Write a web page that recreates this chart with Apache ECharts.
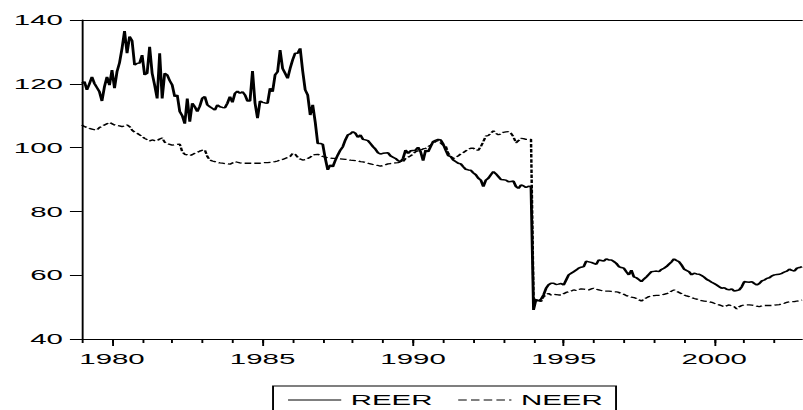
<!DOCTYPE html>
<html>
<head>
<meta charset="utf-8">
<script src="https://cdn.jsdelivr.net/npm/echarts@6/dist/echarts.min.js"></script>
<style>
  html, body { margin: 0; padding: 0; background: #fff; overflow: hidden; }
  /* the reference picture is stretched sideways, so draw narrow and widen it */
  #main { width: 423px; height: 410px; transform: scaleX(1.9); transform-origin: 0 0; }
</style>
</head>
<body>
<div id="main"></div>
<script>
var startYear = 1979;

// monthly, 1979M1 .. 2002M12
var reer = [
  120.1,120.7,118.1,120.0,122.2,120.1,118.8,117.5,114.6,119.1,122.2,119.6,
  124.3,118.6,123.8,126.6,131.1,136.5,129.6,134.8,133.5,125.9,126.4,126.5,
  129.0,122.8,123.3,131.6,123.3,119.6,115.4,129.6,115.4,123.3,122.8,121.0,
  119.6,116.0,116.5,111.3,110.0,107.5,115.4,108.1,113.9,112.8,111.3,113.0,
  115.5,116.0,113.4,112.8,112.3,111.8,113.4,112.8,112.6,112.5,113.9,116.0,
  114.2,117.0,117.7,117.0,117.5,116.5,114.6,114.6,124.0,114.0,109.2,114.6,
  114.2,114.0,113.9,118.6,117.5,122.8,123.8,130.6,124.8,123.3,121.7,124.8,
  127.5,129.6,129.6,131.1,124.0,118.1,116.5,110.2,113.4,108.0,101.3,101.3,
  101.0,96.6,93.0,94.6,94.0,96.0,97.7,99.2,100.3,102.4,104.0,104.3,
  105.0,104.5,103.2,104.0,102.6,102.4,102.2,101.3,100.3,99.5,98.4,98.0,
  98.2,98.3,98.4,97.4,97.0,96.6,95.9,95.6,96.6,99.2,98.2,99.0,
  99.1,99.2,100.1,98.7,95.9,99.2,98.7,100.3,101.9,102.3,102.6,102.4,
  101.1,99.2,97.5,97.2,96.1,95.6,95.1,94.9,94.0,93.2,93.0,92.9,
  92.1,91.5,90.4,89.8,87.8,89.8,90.4,91.5,92.5,91.8,90.9,90.0,
  89.9,89.8,89.3,89.4,89.5,87.8,87.2,88.3,88.0,87.5,87.9,87.8,
  49.1,52.4,51.9,52.5,53.8,55.9,57.0,57.5,57.5,57.1,57.2,57.4,
  56.9,58.5,60.1,60.6,61.1,61.6,62.2,62.5,62.7,64.4,64.2,64.0,
  63.7,63.4,64.8,64.6,64.4,65.1,64.8,64.8,64.3,63.7,62.7,62.4,
  62.2,61.1,60.1,61.6,59.5,59.2,58.6,58.0,58.8,59.5,60.3,61.1,
  61.2,61.3,61.1,61.8,62.2,62.7,63.5,64.2,65.1,64.6,64.2,63.2,
  61.9,61.5,61.1,60.1,60.6,60.4,60.3,59.9,59.4,58.7,58.3,57.8,
  57.4,56.9,56.4,55.9,56.1,55.6,55.4,55.7,55.0,55.2,55.4,56.4,
  58.0,57.9,57.8,58.0,57.4,56.9,57.4,58.2,58.5,59.0,59.2,59.8,
  60.1,60.2,60.3,60.6,61.0,61.3,61.9,61.5,61.3,62.2,62.4,62.7
];

var neer = [
  107.1,106.6,106.3,106.0,105.8,105.6,105.5,106.3,106.7,107.1,107.5,107.9,
  107.5,107.1,106.9,106.8,106.6,106.8,107.1,106.6,105.5,104.8,104.5,104.0,
  103.5,102.9,102.5,102.1,102.4,102.2,102.1,102.7,103.0,101.7,101.3,101.0,
  100.8,100.9,101.0,101.1,98.7,97.9,97.7,97.5,97.8,98.2,98.5,98.9,
  99.2,99.3,97.2,96.1,95.8,95.6,95.4,95.2,95.1,95.0,94.9,94.8,
  95.2,95.6,95.4,95.2,95.1,95.1,95.1,95.1,95.1,95.1,95.1,95.1,
  95.2,95.3,95.3,95.4,95.5,95.6,95.8,96.1,96.3,96.6,96.9,97.2,
  98.2,97.9,97.0,96.4,96.1,96.2,96.6,97.0,97.7,97.8,97.9,97.5,
  97.2,97.0,96.8,96.7,96.6,96.6,96.6,96.5,96.4,96.3,96.3,96.1,
  96.0,95.9,95.8,95.6,95.5,95.3,95.1,94.9,94.7,94.5,94.4,94.2,
  94.4,94.6,94.9,95.0,95.1,95.2,95.3,95.5,95.6,96.6,97.0,97.4,
  98.0,98.7,99.0,99.2,99.6,99.8,100.3,100.8,101.4,101.9,102.2,101.5,
  100.8,100.5,98.2,97.2,96.6,97.0,97.4,98.0,98.4,99.0,99.5,99.8,
  99.8,99.2,99.2,100.3,101.9,103.6,103.8,104.5,105.3,104.5,104.0,104.3,
  104.8,104.9,105.0,104.5,103.4,101.5,102.2,102.9,102.8,102.6,102.6,102.6,
  52.7,52.2,52.2,51.7,53.3,53.8,54.3,53.8,54.0,53.9,53.8,53.8,
  54.2,54.6,54.8,55.0,55.4,55.2,55.5,55.7,55.6,55.5,55.4,55.7,
  55.9,55.6,55.4,55.2,55.0,55.0,55.0,54.9,54.8,54.8,54.6,54.2,
  54.0,53.6,53.3,53.1,53.0,52.7,52.3,51.9,52.5,52.9,53.3,53.4,
  53.6,53.7,53.7,53.8,54.0,54.2,54.5,55.0,55.4,55.0,54.6,54.2,
  53.8,53.5,53.3,53.0,52.7,52.5,52.2,52.0,51.9,51.8,51.7,51.5,
  51.2,51.0,50.7,50.4,50.1,50.4,50.7,50.3,50.1,49.4,50.1,50.5,
  50.7,50.7,50.7,50.6,50.5,50.3,50.1,50.4,50.5,50.5,50.5,50.5,
  50.6,50.7,50.8,51.0,51.2,51.5,51.7,51.7,51.7,51.9,52.0,52.2
];

var yearLabels = ['1980', '1985', '1990', '1995', '2000'];

var months = [];
for (var i = 0; i < reer.length; i++) {
  months.push((startYear + Math.floor(i / 12)) + 'M' + (i % 12 + 1));
}

var font = "'Liberation Sans', Arial, sans-serif";

function isYearStart(v) { return v.slice(-2) === 'M1'; }
function isLabelYear(v) { return isYearStart(v) && yearLabels.indexOf(v.split('M')[0]) >= 0; }

var myChart = echarts.init(document.getElementById('main'), null, { renderer: 'svg' });

myChart.setOption({
  animation: false,
  grid: { left: 43.1, top: 20, width: 379, height: 319 },
  legend: {
    left: 143.7,
    top: 386,
    padding: [6, 7, 14, 7.4],
    itemWidth: 28,
    itemHeight: 14,
    itemGap: 13,
    borderColor: '#000',
    borderWidth: 1,
    itemStyle: { opacity: 0 },
    lineStyle: { width: 1 },
    textStyle: { color: '#000', fontSize: 15.5, fontFamily: font },
    data: [
      { name: 'REER' },
      { name: 'NEER', lineStyle: { type: [4.5, 2.2], width: 1 } }
    ]
  },
  xAxis: [
    {
      type: 'category',
      data: months,
      boundaryGap: false,
      axisLine: { onZero: false, lineStyle: { color: '#000', width: 1 } },
      axisTick: {
        interval: function (idx, v) { return isYearStart(v); },
        length: 4,
        lineStyle: { color: '#000', width: 1 }
      },
      axisLabel: {
        interval: function (idx, v) { return isLabelYear(v); },
        formatter: function (v) { return v.split('M')[0]; },
        color: '#000', fontSize: 15.5, fontFamily: font, margin: 12
      },
      splitLine: { show: false }
    },
    {
      // longer ticks every five years
      type: 'category',
      data: months,
      boundaryGap: false,
      position: 'bottom',
      axisLine: { show: false, onZero: false },
      axisTick: {
        interval: function (idx, v) { return isLabelYear(v); },
        length: 7,
        lineStyle: { color: '#000', width: 1 }
      },
      axisLabel: { show: false },
      splitLine: { show: false }
    },
    {
      // top frame line
      type: 'category',
      data: months,
      boundaryGap: false,
      position: 'top',
      axisLine: { onZero: false, lineStyle: { color: '#000', width: 1 } },
      axisTick: { show: false },
      axisLabel: { show: false },
      splitLine: { show: false }
    }
  ],
  yAxis: {
    type: 'value',
    min: 40,
    max: 140,
    interval: 20,
    axisLine: { show: true, lineStyle: { color: '#000', width: 1 } },
    axisTick: { show: true, length: 6.3, lineStyle: { color: '#000', width: 1 } },
    axisLabel: { color: '#000', fontSize: 15.5, fontFamily: font, margin: 10 },
    splitLine: { show: false }
  },
  series: [
    {
      name: 'REER',
      type: 'line',
      data: reer,
      symbol: 'none',
      lineStyle: { color: '#000', width: 1.5 },
      itemStyle: { color: '#000' }
    },
    {
      name: 'NEER',
      type: 'line',
      data: neer,
      symbol: 'none',
      lineStyle: { color: '#000', width: 1.3, type: [3.5, 1.6] },
      itemStyle: { color: '#000' }
    }
  ]
});
</script>
</body>
</html>
